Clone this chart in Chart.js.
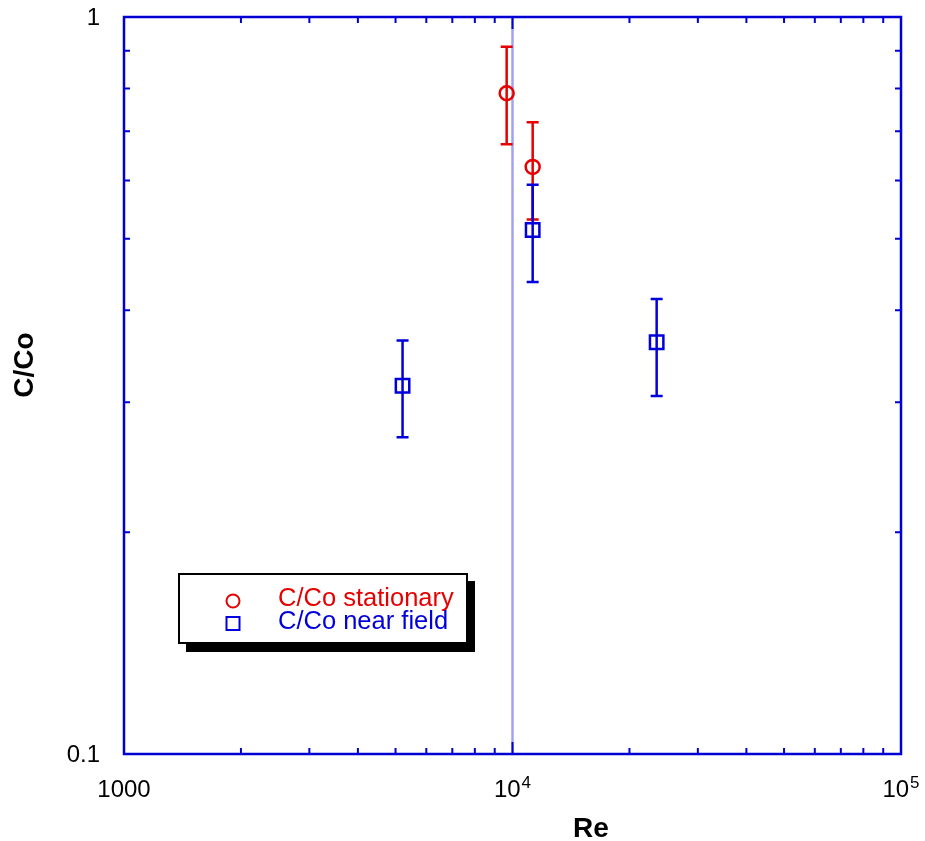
<!DOCTYPE html>
<html>
<head>
<meta charset="utf-8">
<script src="https://cdn.jsdelivr.net/npm/chart.js@4.4.1/dist/chart.umd.min.js"></script>
<style>
  html, body { margin: 0; padding: 0; background: #fff; }
  canvas { display: block; }
</style>
</head>
<body>
<canvas id="chart" width="925" height="841"></canvas>
<script>
// Re vs C/Co
const stationaryRe = [9660, 11270];
const stationaryC = [0.788, 0.626];
const stationaryHi = [0.911, 0.720];
const stationaryLo = [0.672, 0.531];

const nearRe = [5212, 11270, 23500];
const nearC = [0.316, 0.514, 0.362];
const nearHi = [0.364, 0.592, 0.4145];
const nearLo = [0.269, 0.437, 0.306];

const xMajor = [1000, 10000, 100000];
const xLabels = [['1000', ''], ['10', '4'], ['10', '5']];
const yMajor = [0.1, 1];
const yLabels = ['0.1', '1'];
const legendLabels = ['C/Co stationary', 'C/Co near field'];

const RED = '#e60000';
const BLUE = '#0000dc';
const FRAME = '#0000d2';
const FONT = '"Liberation Sans", Arial, Helvetica, sans-serif';

function minorTicks(lo, hi) {
  const out = [];
  for (let d = lo; d < hi; d *= 10) {
    for (let m = 2; m <= 9; m++) out.push(d * m);
  }
  return out;
}

// error bars, drawn through the scales
const errorBars = {
  id: 'errorBars',
  afterDatasetsDraw(chart) {
    const ctx = chart.ctx, x = chart.scales.x, y = chart.scales.y;
    const sets = [
      {re: stationaryRe, hi: stationaryHi, lo: stationaryLo, color: RED},
      {re: nearRe, hi: nearHi, lo: nearLo, color: BLUE},
    ];
    ctx.save();
    ctx.lineWidth = 2.5;
    sets.forEach(s => {
      ctx.strokeStyle = s.color;
      s.re.forEach((re, i) => {
        const px = x.getPixelForValue(re);
        const top = y.getPixelForValue(s.hi[i]);
        const bot = y.getPixelForValue(s.lo[i]);
        ctx.beginPath();
        ctx.moveTo(px, top); ctx.lineTo(px, bot);
        ctx.moveTo(px - 6, top); ctx.lineTo(px + 6, top);
        ctx.moveTo(px - 6, bot); ctx.lineTo(px + 6, bot);
        ctx.stroke();
      });
    });
    ctx.restore();
  }
};

// frame, inward ticks, labels, titles and the boxed legend
const frame = {
  id: 'frame',
  beforeDatasetsDraw(chart) {
    const ctx = chart.ctx, a = chart.chartArea, x = chart.scales.x;
    // light vertical line at 10^4
    const px = x.getPixelForValue(10000);
    ctx.save();
    ctx.strokeStyle = 'rgba(70,70,230,0.5)';
    ctx.lineWidth = 2.5;
    ctx.beginPath();
    ctx.moveTo(px, a.top); ctx.lineTo(px, a.bottom);
    ctx.stroke();
    ctx.restore();
  },
  afterDraw(chart) {
    const ctx = chart.ctx, a = chart.chartArea;
    const x = chart.scales.x, y = chart.scales.y;
    ctx.save();
    ctx.strokeStyle = FRAME;
    ctx.lineWidth = 2.5;
    ctx.strokeRect(a.left, a.top, a.right - a.left, a.bottom - a.top);

    ctx.lineWidth = 2;
    ctx.beginPath();
    minorTicks(1000, 100000).forEach(v => {
      const p = x.getPixelForValue(v);
      ctx.moveTo(p, a.bottom); ctx.lineTo(p, a.bottom - 6);
      ctx.moveTo(p, a.top); ctx.lineTo(p, a.top + 6);
    });
    minorTicks(0.1, 1).forEach(v => {
      const p = y.getPixelForValue(v);
      ctx.moveTo(a.left, p); ctx.lineTo(a.left + 6, p);
      ctx.moveTo(a.right, p); ctx.lineTo(a.right - 6, p);
    });
    xMajor.forEach(v => {
      const p = x.getPixelForValue(v);
      ctx.moveTo(p, a.bottom); ctx.lineTo(p, a.bottom - 12);
      ctx.moveTo(p, a.top); ctx.lineTo(p, a.top + 12);
    });
    ctx.stroke();

    // tick labels
    ctx.fillStyle = '#000';
    ctx.textBaseline = 'alphabetic';
    xMajor.forEach((v, i) => {
      const p = x.getPixelForValue(v);
      const [base, sup] = xLabels[i];
      ctx.font = '24px ' + FONT;
      const wb = ctx.measureText(base).width;
      ctx.font = '17px ' + FONT;
      const ws = sup ? ctx.measureText(sup).width + 1 : 0;
      const left = p - (wb + ws) / 2;
      ctx.textAlign = 'left';
      ctx.font = '24px ' + FONT;
      ctx.fillText(base, left, 797);
      if (sup) {
        ctx.font = '17px ' + FONT;
        ctx.fillText(sup, left + wb + 1, 788);
      }
    });
    ctx.font = '24px ' + FONT;
    ctx.textAlign = 'right';
    yMajor.forEach((v, i) => {
      ctx.fillText(yLabels[i], 100, y.getPixelForValue(v) + 8);
    });

    // axis titles
    ctx.font = 'bold 28px ' + FONT;
    ctx.textAlign = 'center';
    ctx.fillText('Re', 591, 837);
    ctx.save();
    ctx.translate(33, 365);
    ctx.rotate(-Math.PI / 2);
    ctx.fillText('C/Co', 0, 0);
    ctx.restore();

    // legend with drop shadow
    ctx.fillStyle = '#000';
    ctx.fillRect(186, 581, 289, 71);
    ctx.fillStyle = '#fff';
    ctx.fillRect(179, 574, 288, 69);
    ctx.strokeStyle = '#000';
    ctx.lineWidth = 2;
    ctx.strokeRect(179, 574, 288, 69);

    ctx.lineWidth = 2;
    ctx.strokeStyle = RED;
    ctx.beginPath();
    ctx.arc(233, 601, 6.5, 0, Math.PI * 2);
    ctx.stroke();
    ctx.strokeStyle = BLUE;
    ctx.strokeRect(226.5, 617, 13, 13);

    ctx.font = '25.5px ' + FONT;
    ctx.textAlign = 'left';
    ctx.fillStyle = RED;
    ctx.fillText(legendLabels[0], 278, 606);
    ctx.fillStyle = BLUE;
    ctx.fillText(legendLabels[1], 278, 629);
    ctx.restore();
  }
};

const toPoints = (xs, ys) => xs.map((v, i) => ({x: v, y: ys[i]}));

new Chart(document.getElementById('chart'), {
  type: 'scatter',
  data: {
    datasets: [
      {
        label: legendLabels[0],
        data: toPoints(stationaryRe, stationaryC),
        pointStyle: 'circle',
        pointRadius: 7,
        borderColor: RED,
        backgroundColor: 'rgba(0,0,0,0)',
        borderWidth: 2.5,
      },
      {
        label: legendLabels[1],
        data: toPoints(nearRe, nearC),
        pointStyle: 'rect',
        pointRadius: 9.5,
        borderColor: BLUE,
        backgroundColor: 'rgba(0,0,0,0)',
        borderWidth: 2.5,
      },
    ],
  },
  options: {
    responsive: false,
    animation: false,
    devicePixelRatio: 1,
    layout: { padding: { left: 124, right: 24, top: 17, bottom: 87 } },
    plugins: { legend: { display: false }, tooltip: { enabled: false } },
    scales: {
      x: { type: 'logarithmic', min: 1000, max: 100000, display: false },
      y: { type: 'logarithmic', min: 0.1, max: 1, display: false },
    },
  },
  plugins: [frame, errorBars],
});
</script>
</body>
</html>
